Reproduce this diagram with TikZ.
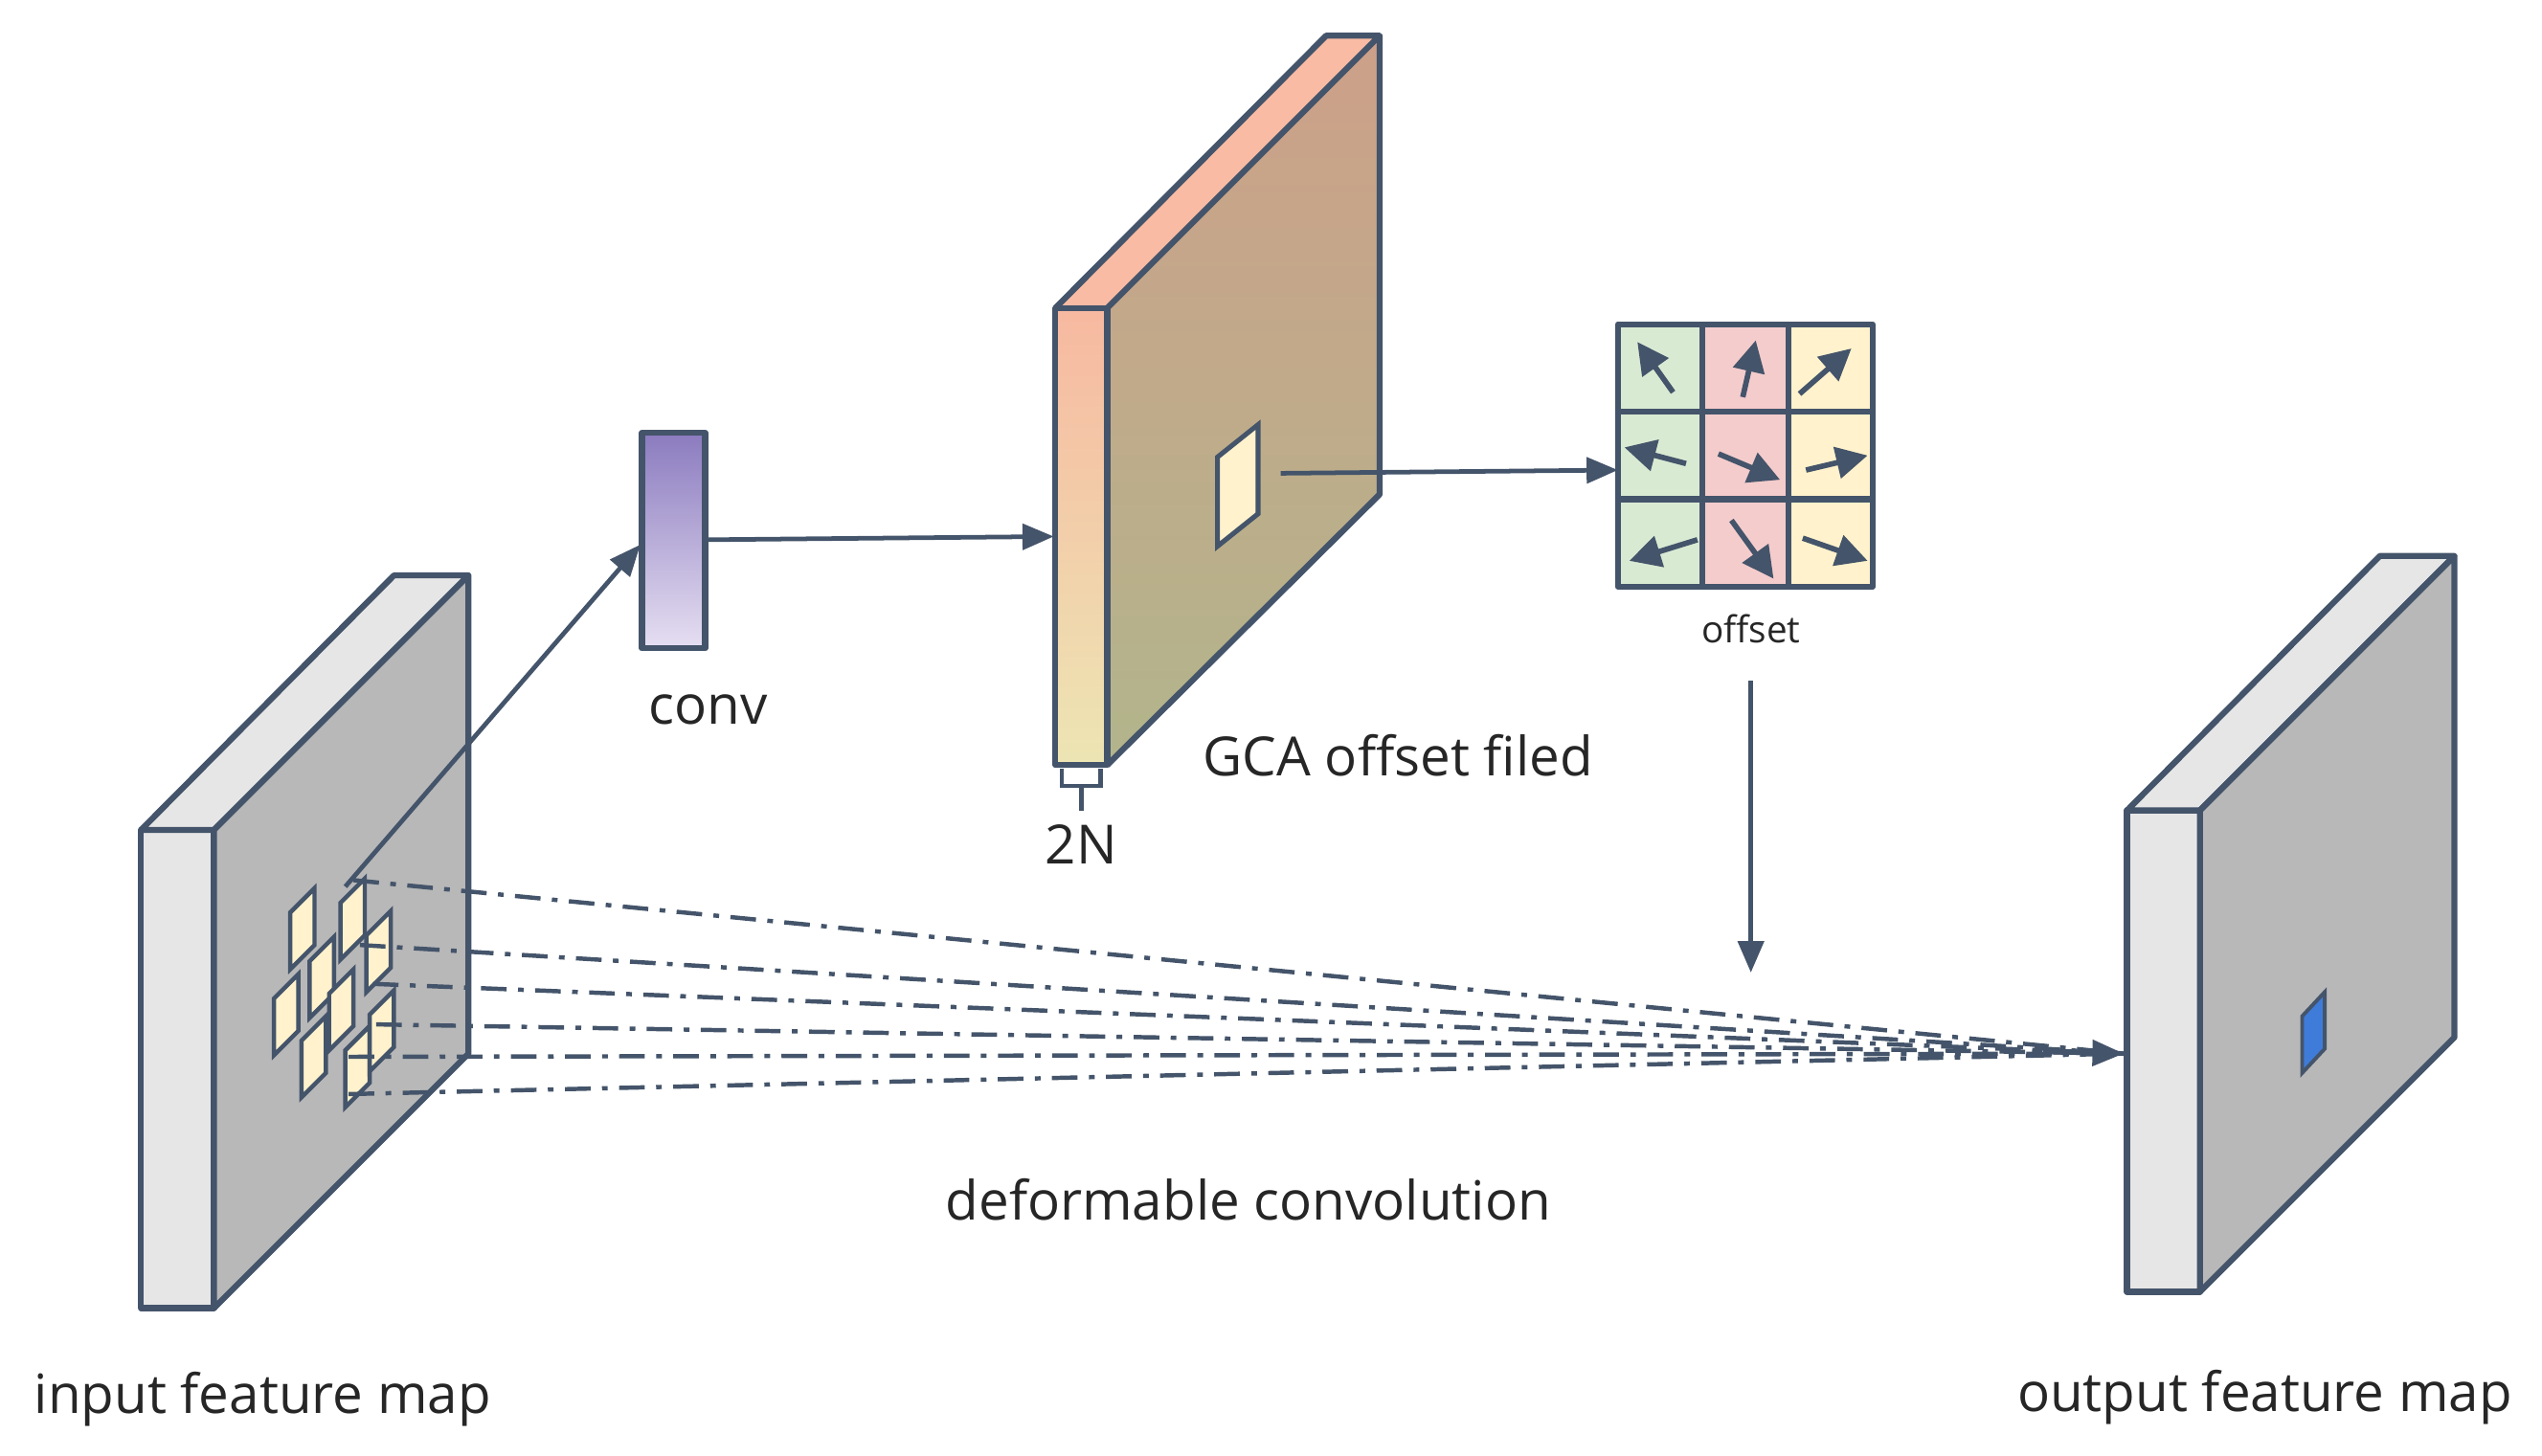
\documentclass[tikz,border=0pt]{standalone}
\usepackage{fontspec}
\setmainfont{Open Sans}
\usetikzlibrary{arrows.meta}
\definecolor{ln}{HTML}{44546A}
\definecolor{fg}{HTML}{E6E6E6}
\definecolor{sg}{HTML}{B8B8B8}
\definecolor{py}{HTML}{FFF2CC}
\definecolor{cg}{HTML}{D9EAD3}
\definecolor{cr}{HTML}{F4CCCC}
\definecolor{gft}{HTML}{F7B9A1}
\definecolor{gfb}{HTML}{EDE5B3}
\definecolor{gtp}{HTML}{F9BBA4}
\definecolor{gst}{HTML}{CDA089}
\definecolor{gsb}{HTML}{B2B58B}
\definecolor{cvt}{HTML}{8B7BBF}
\definecolor{cvb}{HTML}{E6DFF2}
\definecolor{bp}{HTML}{3F7BD9}
\begin{document}
\begin{tikzpicture}[x=0.02cm,y=-0.02cm,
  edge/.style={draw=ln,line width=2.1pt,line join=round},
  arr/.style={ln,line width=1.6pt,-{Triangle[length=11pt,width=9pt]}},
  garr/.style={ln,line width=1.9pt,-{Triangle[length=11pt,width=11pt]}},
  dd/.style={ln,line width=1.5pt,dash pattern=on 9pt off 4pt on 2pt off 4pt},
  lbl/.style={font=\fontsize{19}{22}\selectfont,text=black!85}]
\useasboundingbox (0,0) rectangle (1568,898);
% input map
\path[edge,fill=fg] (87,512) rectangle (132,807);
\path[edge,fill=fg] (87,512)--(243,355)--(289,355)--(132,512)--cycle;
\path[edge,fill=sg] (132,512)--(289,355)--(289,650)--(132,807)--cycle;
\foreach \x/\yb in {179/598,210/592,226/612,169/651,191/628,203/648,186/677,213/683,228/661}{
  \path[draw=ln,line width=1.5pt,fill=py] (\x,\yb)--(\x,\yb-35)--(\x+15,\yb-50)--(\x+15,\yb-15)--cycle;}
% output map
\path[edge,fill=fg] (1312,500) rectangle (1357,797);
\path[edge,fill=fg] (1312,500)--(1468,343)--(1514,343)--(1357,500)--cycle;
\path[edge,fill=sg] (1357,500)--(1514,343)--(1514,640)--(1357,797)--cycle;
\path[draw=ln,line width=1.3pt,fill=bp] (1420,662)--(1420,627)--(1434,612)--(1434,647)--cycle;
% dash-dot lines
\coordinate (tgt) at (1310,650);
\foreach \y/\x in {543/218,583/222,607/230,632/232,652/215,675/215}{
  \draw[dd] (\x,\y) -- (tgt);}
\draw[arr] (1260,649) -- (tgt);
% conv
\shade[top color=cvt,bottom color=cvb] (396,267) rectangle (435,400);
\draw[edge] (396,267) rectangle (435,400);
\coordinate (convL) at (395,336);
\coordinate (convR) at (436,333);
\coordinate (inS) at (213,547);
\draw[arr] (inS) -- (convL);
\node[lbl] (conv) at (437,438) {conv};
% GCA block
\shade[top color=gft,bottom color=gfb] (651,190) rectangle (683,472);
\fill[gtp] (651,190)--(818,22)--(851,22)--(683,190)--cycle;
\shade[top color=gst,bottom color=gsb] (683,190)--(851,22)--(851,305)--(683,472)--cycle;
\draw[edge] (651,190) rectangle (683,472);
\draw[edge] (651,190)--(818,22)--(851,22)--(683,190);
\draw[edge] (851,22)--(851,305)--(683,472);
\draw[ln,line width=1.5pt] (655,474)--(655,485)--(679,485)--(679,474) (667,485)--(667,500);
\node[lbl] (n2) at (667,521) {2N};
\node[lbl,anchor=west] (gca) at (736,466) {GCA offset filed};
\coordinate (gcaL) at (650,331);
\draw[arr] (convR) -- (gcaL);
\path[draw=ln,line width=1.7pt,fill=py] (751,337)--(751,282)--(776,262)--(776,317)--cycle;
\coordinate (pS) at (790,292);
\coordinate (gridL) at (998,290);
\draw[arr] (pS) -- (gridL);
% offset grid
\fill[cg] (998,200) rectangle (1050,362);
\fill[cr] (1050,200) rectangle (1103,362);
\fill[py] (1103,200) rectangle (1155,362);
\draw[edge] (998,200) rectangle (1155,362);
\draw[edge] (1050,200)--(1050,362) (1103,200)--(1103,362) (998,254)--(1155,254) (998,308)--(1155,308);
\foreach \a/\b/\c/\d in {1032/242/1010/211, 1075/245/1083/210, 1110/243/1142/215,
  1040/286/1002/276, 1060/280/1098/296, 1114/290/1152/281,
  1047/333/1005/346, 1068/321/1094/357, 1112/332/1152/346}{
  \draw[garr] (\a,\b) -- (\c,\d);}
\node[font=\fontsize{13}{15}\selectfont,text=black!85] (off) at (1080,388) {offset};
\coordinate (dS) at (1080,420);
\coordinate (dE) at (1080,600);
\draw[arr] (dS) -- (dE);
\node[lbl] (dc) at (770,740) {deformable convolution};
\node[lbl] (inl) at (162,863) {input feature map};
\node[lbl] (outl) at (1397,862) {output feature map};
\end{tikzpicture}
\end{document}
